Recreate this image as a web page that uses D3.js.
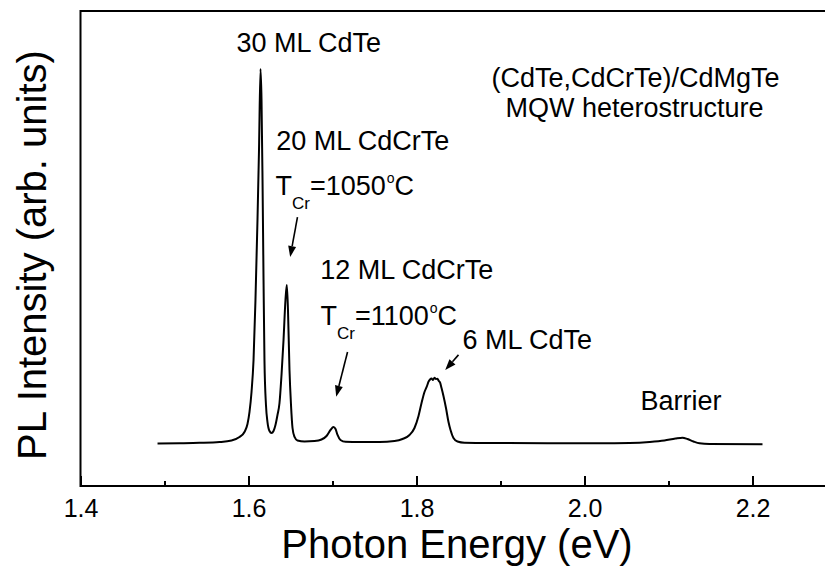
<!DOCTYPE html>
<html>
<head>
<meta charset="utf-8">
<script src="https://cdn.jsdelivr.net/npm/d3@7"></script>
<style>
  html, body { margin: 0; padding: 0; background: #fff; }
  svg { display: block; }
  text { font-family: "Liberation Sans", Arial, Helvetica, sans-serif; fill: #000; }
</style>
</head>
<body>
<svg id="chart" width="825" height="569"></svg>
<script>
// PL spectrum of the (CdTe,CdCrTe)/CdMgTe MQW heterostructure
const energy = [
  1.4917, 1.5179, 1.5417, 1.5655, 1.5798, 1.5893, 1.5952, 1.5988, 1.6012, 1.6036,
  1.6060, 1.6083, 1.6107, 1.6125, 1.6143, 1.6155, 1.6167, 1.6179, 1.6190, 1.6208,
  1.6226, 1.6250, 1.6274, 1.6298, 1.6321, 1.6345, 1.6369, 1.6393, 1.6417, 1.6440,
  1.6456, 1.6470, 1.6488, 1.6506, 1.6524, 1.6548, 1.6583, 1.6667, 1.6786, 1.6869,
  1.6929, 1.6976, 1.7012, 1.7036, 1.7060, 1.7095, 1.7155, 1.7321, 1.7560, 1.7738,
  1.7833, 1.7917, 1.7976, 1.8024, 1.8060, 1.8095, 1.8125, 1.8143, 1.8161, 1.8179,
  1.8196, 1.8214, 1.8232, 1.8250, 1.8262, 1.8280, 1.8298, 1.8321, 1.8351, 1.8381,
  1.8405, 1.8440, 1.8488, 1.8571, 1.8988, 1.9583, 2.0179, 2.0536, 2.0774, 2.0952,
  2.1083, 2.1167, 2.1226, 2.1298, 2.1369, 2.1488, 2.2119
];
const intensity = [
  8.95, 9.01, 9.09, 9.26, 9.58, 10.32, 11.37, 13.05, 15.58, 19.79,
  26.53, 39.16, 56.00, 70.74, 87.79, 81.26, 64.42, 43.37, 26.53, 17.05,
  13.47, 11.58, 11.16, 11.58, 12.84, 14.95, 17.47, 23.37, 30.74, 39.16,
  42.32, 37.05, 24.42, 17.05, 12.21, 10.32, 9.58, 9.37, 9.47, 9.79,
  10.53, 11.79, 12.42, 12.00, 10.74, 9.68, 9.31, 9.26, 9.26, 9.47,
  9.89, 10.74, 12.21, 14.74, 17.47, 19.79, 21.05, 21.96, 22.42, 22.63,
  22.32, 22.78, 22.53, 22.57, 22.21, 21.79, 20.63, 18.95, 16.42, 13.47,
  11.79, 10.11, 9.37, 9.12, 9.05, 9.01, 8.99, 9.05, 9.26, 9.58,
  10.00, 10.17, 9.89, 9.37, 8.99, 8.84, 8.78
];

// axis ticks
const majorTicks = [1.4, 1.6, 1.8, 2.0, 2.2];
const minorTicks = [1.5, 1.7, 1.9, 2.1];

// peak annotations (anchored in energy / intensity units)
const labels = [
  { text: "30 ML CdTe", e: 1.5857, i: 91.4 },
  { text: "20 ML CdCrTe", e: 1.6330, i: 70.7 },
  { text: "12 ML CdCrTe", e: 1.6854, i: 43.5 },
  { text: "6 ML CdTe", e: 1.8548, i: 28.8 },
  { text: "Barrier", e: 2.0667, i: 16.1 }
];
const tempLabels = [
  { temp: "1050", e: 1.6321, i: 61.3 },
  { temp: "1100", e: 1.6857, i: 33.9 }
];
const sampleLines = [
  { text: "(CdTe,CdCrTe)/CdMgTe", e: 2.0607, i: 84.0 },
  { text: "MQW heterostructure", e: 2.0595, i: 77.7 }
];
const arrows = [
  { e0: 1.6583, i0: 56.6, e1: 1.6496, i1: 48.2 },
  { e0: 1.7179, i0: 28.2, e1: 1.7044, i1: 18.8 },
  { e0: 1.8500, i0: 27.6, e1: 1.8342, i1: 24.4 }
];

const svg = d3.select("#chart");
const plotLeft = 80.5, plotRight = 836.5, plotTop = 11, plotBottom = 486;

const x = d3.scaleLinear().domain([1.4, 2.3]).range([plotLeft, plotRight]);
const y = d3.scaleLinear().domain([0, 100]).range([plotBottom, plotTop]);

svg.append("rect").attr("width", 825).attr("height", 569).attr("fill", "#fff");

// frame
svg.append("rect")
  .attr("x", plotLeft).attr("y", plotTop)
  .attr("width", plotRight - plotLeft).attr("height", plotBottom - plotTop)
  .attr("fill", "none").attr("stroke", "#000").attr("stroke-width", 2);

// bottom axis: inward major ticks with labels, inward minor ticks
const majorAxis = d3.axisBottom(x)
  .tickValues(majorTicks)
  .tickSize(-10)
  .tickPadding(13)
  .tickFormat(d3.format(".1f"));
const gMajor = svg.append("g").attr("transform", `translate(0,${plotBottom})`).call(majorAxis);
gMajor.select(".domain").remove();
gMajor.selectAll(".tick line").attr("stroke", "#000").attr("stroke-width", 2);
gMajor.selectAll(".tick text")
  .attr("font-size", 25)
  .attr("font-family", "Liberation Sans, Arial, sans-serif")
  .attr("fill", "#000");

const minorAxis = d3.axisBottom(x)
  .tickValues(minorTicks)
  .tickSize(-5)
  .tickFormat("");
const gMinor = svg.append("g").attr("transform", `translate(0,${plotBottom})`).call(minorAxis);
gMinor.select(".domain").remove();
gMinor.selectAll(".tick line").attr("stroke", "#000").attr("stroke-width", 2);

// axis titles
svg.append("text")
  .attr("x", 457).attr("y", 558)
  .attr("text-anchor", "middle")
  .attr("font-size", 40)
  .text("Photon Energy (eV)");

svg.append("text")
  .attr("transform", "translate(46,255) rotate(-90)")
  .attr("text-anchor", "middle")
  .attr("font-size", 40)
  .text("PL Intensity (arb. units)");

// spectrum
const points = energy.map((e, k) => [e, intensity[k]]);
const line = d3.line()
  .x(d => x(d[0]))
  .y(d => y(d[1]))
  .curve(d3.curveMonotoneX);
svg.append("path")
  .datum(points)
  .attr("d", line)
  .attr("fill", "none")
  .attr("stroke", "#000")
  .attr("stroke-width", 2)
  .attr("stroke-linejoin", "round");

// annotations
svg.selectAll("text.peak")
  .data(labels)
  .join("text")
  .attr("class", "peak")
  .attr("x", d => x(d.e))
  .attr("y", d => y(d.i))
  .attr("font-size", 27)
  .text(d => d.text);

svg.selectAll("text.sample")
  .data(sampleLines)
  .join("text")
  .attr("class", "sample")
  .attr("x", d => x(d.e))
  .attr("y", d => y(d.i))
  .attr("text-anchor", "middle")
  .attr("font-size", 27)
  .text(d => d.text);

tempLabels.forEach(d => {
  const t = svg.append("text")
    .attr("x", x(d.e)).attr("y", y(d.i))
    .attr("font-size", 27);
  t.append("tspan").text("T");
  t.append("tspan").attr("font-size", 17).attr("dy", 14).text("Cr");
  t.append("tspan").attr("dy", -14).text("=" + d.temp);
  t.append("tspan").attr("font-size", 14).attr("dy", -12).attr("dx", 1).text("o");
  t.append("tspan").attr("dy", 12).text("C");
});

// arrows pointing at the peaks
arrows.forEach(a => {
  const x0 = x(a.e0), y0 = y(a.i0), x1 = x(a.e1), y1 = y(a.i1);
  const ang = Math.atan2(y1 - y0, x1 - x0);
  const headLen = 11, headW = 4;
  const bx = x1 - headLen * Math.cos(ang), by = y1 - headLen * Math.sin(ang);
  svg.append("line")
    .attr("x1", x0).attr("y1", y0).attr("x2", bx).attr("y2", by)
    .attr("stroke", "#000").attr("stroke-width", 1.6);
  const px = -Math.sin(ang) * headW, py = Math.cos(ang) * headW;
  svg.append("path")
    .attr("d", `M${x1},${y1}L${bx + px},${by + py}L${bx - px},${by - py}Z`)
    .attr("fill", "#000");
});
</script>
</body>
</html>
